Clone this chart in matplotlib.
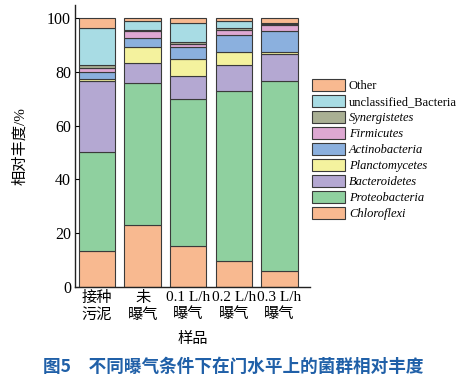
import numpy as np
import matplotlib
matplotlib.use("Agg")
import matplotlib.pyplot as plt
from matplotlib.patches import Patch

plt.rcParams['font.family'] = ['Liberation Serif', 'Noto Sans CJK SC']

samples = ['接种\n污泥', '未\n曝气', '0.1 L/h\n曝气', '0.2 L/h\n曝气', '0.3 L/h\n曝气']

# stacked from bottom to top
phyla = ['Chloroflexi', 'Proteobacteria', 'Bacteroidetes', 'Planctomycetes',
         'Actinobacteria', 'Firmicutes', 'Synergistetes', 'unclassified_Bacteria', 'Other']

chloroflexi = [13.3, 22.9, 15.2, 9.7, 5.9]
proteobacteria = [36.9, 52.9, 54.6, 63.3, 70.6]
bacteroidetes = [26.6, 7.6, 8.9, 9.8, 10.3]
planctomycetes = [0.6, 5.8, 6.2, 4.6, 0.6]
actinobacteria = [2.8, 3.5, 4.6, 6.5, 8.0]
firmicutes = [1.2, 2.5, 1.0, 1.9, 2.3]
synergistetes = [1.2, 0.5, 0.8, 0.6, 0.3]
unclassified = [13.8, 3.4, 7.0, 2.6, 0.3]
other = [3.6, 0.9, 1.7, 1.0, 1.7]

colors = ['#F8B990', '#8FD09F', '#B4A8D2', '#F4F29E', '#8BB0DE',
          '#DEA8D2', '#A9AF93', '#A8DCE4', '#F8B990']
italic = [True, True, True, True, True, True, True, False, False]

series = [chloroflexi, proteobacteria, bacteroidetes, planctomycetes,
          actinobacteria, firmicutes, synergistetes, unclassified, other]

fig = plt.figure(figsize=(4.76, 3.8), dpi=100)
ax = fig.add_axes([0.158, 0.245, 0.493, 0.742])

x = np.arange(len(samples))
bottom = np.zeros(len(samples))
for vals, c in zip(series, colors):
    ax.bar(x, vals, width=0.8, bottom=bottom, color=c, edgecolor='#3a3a3a', linewidth=0.8)
    bottom += np.array(vals)

ax.set_xlim(-0.48, 4.67)
ax.set_ylim(0, 105)
ax.set_yticks([0, 20, 40, 60, 80, 100])
ax.set_xticks(x)
ax.set_xticklabels(samples, fontsize=11, linespacing=1.3)
ax.tick_params(axis='y', direction='in', labelsize=11.5, length=3, pad=3)
ax.tick_params(axis='x', length=0, pad=3)
for s in ['top', 'right']:
    ax.spines[s].set_visible(False)
for s in ['left', 'bottom']:
    ax.spines[s].set_linewidth(1.0)
    ax.spines[s].set_color('#222222')

ax.set_ylabel('相对丰度/%', fontsize=11, labelpad=14)
ax.set_xlabel('样品', fontsize=11, labelpad=7)

handles = [Patch(facecolor=c, edgecolor='#3a3a3a', linewidth=0.8) for c in colors][::-1]
leg = fig.legend(handles, phyla[::-1], loc='upper left', bbox_to_anchor=(0.645, 0.805),
                 frameon=False, fontsize=9, handlelength=2.6, handleheight=1.1,
                 handletextpad=0.35, labelspacing=0.22, borderaxespad=0)
for t, it in zip(leg.get_texts(), italic[::-1]):
    if it:
        t.set_fontstyle('italic')

fig.text(0.49, 0.034, '图5　不同曝气条件下在门水平上的菌群相对丰度',
         ha='center', va='center', fontsize=12.7, fontweight='bold',
         color='#2060A8', family=['Noto Sans CJK SC'])

fig.savefig('out.png', dpi=100)
